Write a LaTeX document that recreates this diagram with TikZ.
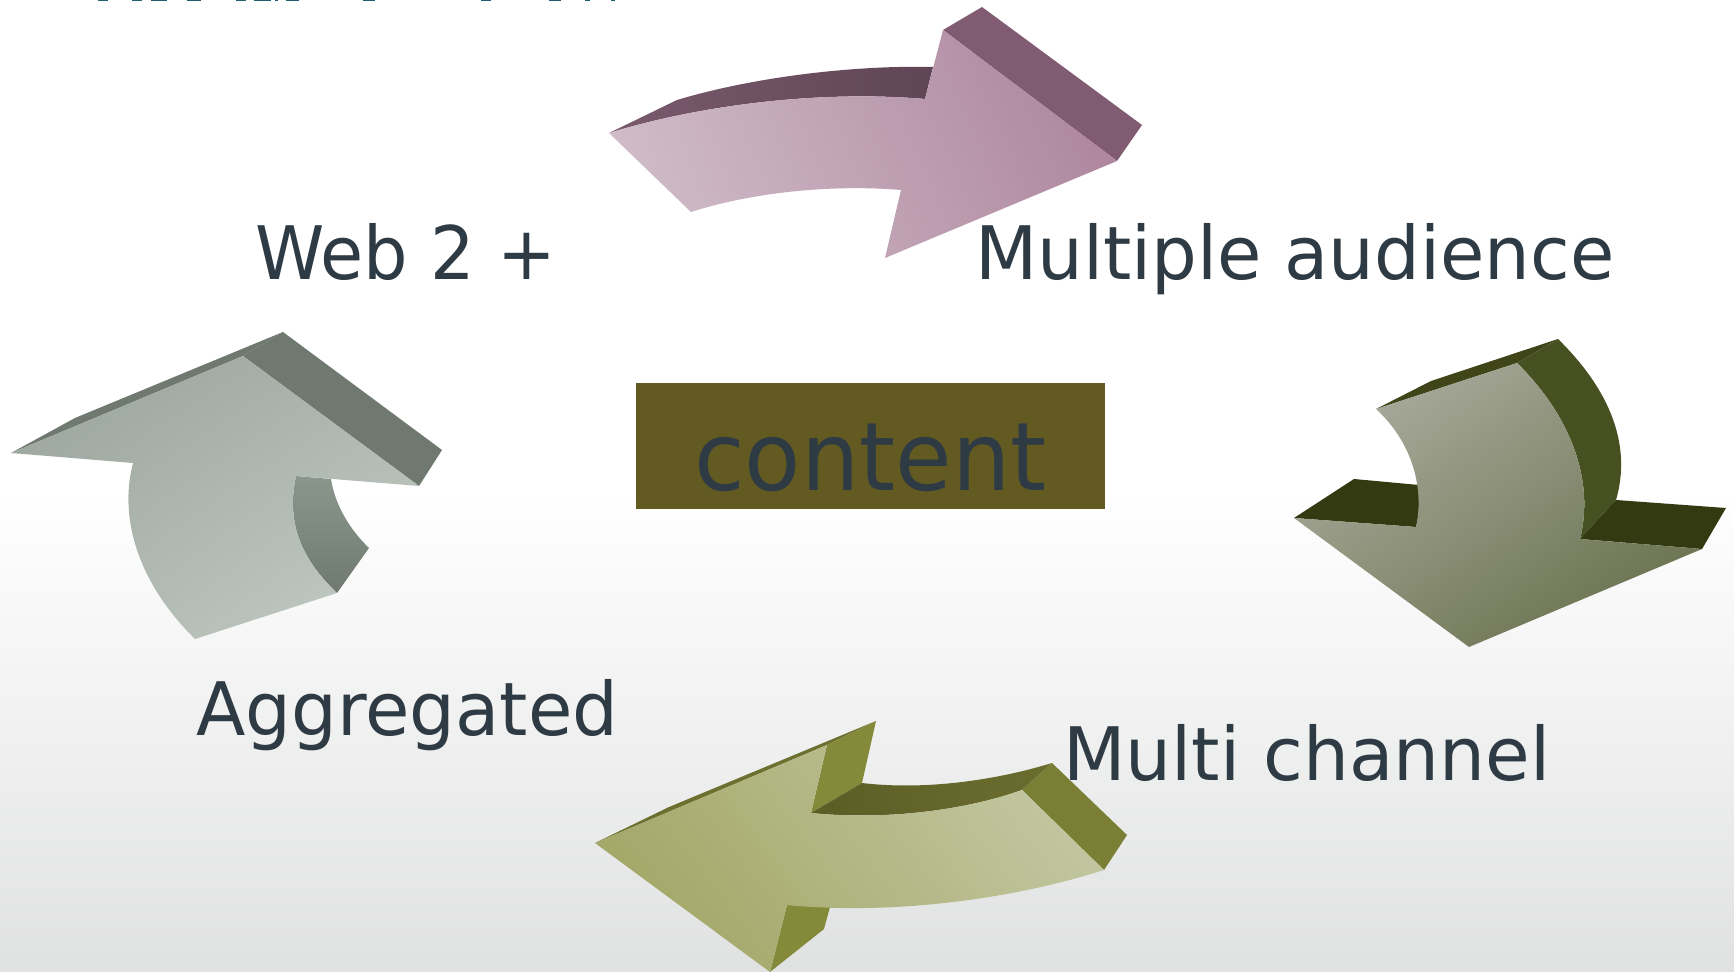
\documentclass[tikz,border=0pt]{standalone}
\usepackage{xcolor}
\usepackage{fontspec}
\usetikzlibrary{shadings}
\setmainfont{DejaVu Sans}
\definecolor{slatetext}{HTML}{2F3B44}
\definecolor{boxolive}{HTML}{625A21}
\definecolor{titleteal}{HTML}{1F5F70}
\definecolor{floorgrey}{HTML}{E0E2E1}
\definecolor{purplelight}{HTML}{D3C0CC}
\definecolor{purplemid}{HTML}{CDB8C6}
\definecolor{purpledeep}{HTML}{AA8099}
\definecolor{purplelow}{HTML}{B28CA3}
\definecolor{purpledark}{HTML}{5F4555}
\definecolor{purplefade}{HTML}{7A5A6E}
\definecolor{purpleside}{HTML}{805B72}
\definecolor{greydeep}{HTML}{98A39A}
\definecolor{greymid}{HTML}{ACB5AE}
\definecolor{greylight}{HTML}{C6CDC8}
\definecolor{greyside}{HTML}{6F7970}
\definecolor{greyinner}{HTML}{8A968C}
\definecolor{mosslight}{HTML}{B4B6AC}
\definecolor{mossmid}{HTML}{8A8E74}
\definecolor{mossdeep}{HTML}{5E6842}
\definecolor{mosssliver}{HTML}{3F4519}
\definecolor{mossside}{HTML}{465021}
\definecolor{mossdark}{HTML}{333A12}
\definecolor{olivedeep}{HTML}{9DA15C}
\definecolor{olivemid}{HTML}{A8AC70}
\definecolor{olivelight}{HTML}{C8CCAA}
\definecolor{olivelow}{HTML}{BDC198}
\definecolor{olivesliver}{HTML}{6E7030}
\definecolor{oliveside}{HTML}{858A3B}
\definecolor{olivedark}{HTML}{5B5D26}
\definecolor{olivefade}{HTML}{6B6D2F}
\definecolor{oliveend}{HTML}{7A7F35}
\tikzset{
  labeltext/.style={font=\fontsize{42}{50}\selectfont,text=slatetext,anchor=base west,inner sep=0pt,transform shape},
  bigtext/.style={font=\fontsize{54}{64}\selectfont,text=slatetext,anchor=base west,inner sep=0pt,transform shape},
  purpleface/.style={lower left=purplelight,upper right=purpledeep,upper left=purplemid,lower right=purplelow},
  greyface/.style={upper left=greydeep,lower right=greylight,upper right=greymid,lower left=greymid},
  mossface/.style={upper left=mosslight,lower right=mossdeep,upper right=mossmid,lower left=mossmid},
  oliveface/.style={lower left=olivedeep,upper right=olivelight,upper left=olivemid,lower right=olivelow}
}
\begin{document}
\begin{tikzpicture}[x=0.02cm,y=-0.02cm]
\useasboundingbox (0,0) rectangle (1734,972);
\fill [white] (0,0) rectangle (1734,490);
\shade [top color=white,bottom color=floorgrey] (0,490) rectangle (1734,972);
\foreach \xa/\xb in {98/108,132/142,151/167,187/201,236/246,254/271,275/278,286/299,363/375,481/491,549/561,585/590,611/615}
  \fill [titleteal] (\xa,0) rectangle (\xb,1.5);
% purple
\shade [left color=purplefade,right color=purpledark] (609,133) -- (677,100) .. controls (750,78) and (850,65) .. (933,67) -- (925,99) .. controls (820,90) and (700,105) .. (609,133);
\fill [purpleside] (943,30) -- (982,7) -- (1142,125) -- (1117,161) -- cycle;
\shade [purpleface] (609,133) .. controls (700,105) and (820,90) .. (925,99) -- (943,30) -- (1117,161) -- (885,258) -- (901,190) .. controls (830,184) and (750,193) .. (691,212) -- cycle;
% moss
\fill [mosssliver] (1376,409) -- (1431,381) -- (1558,339) -- (1517,363) -- cycle;
\fill [mossside] (1558,339) .. controls (1610,390) and (1632,445) .. (1616,500) -- (1580,539) .. controls (1595,480) and (1570,415) .. (1517,363) -- cycle;
\fill [mossdark] (1294,518) -- (1354,479) -- (1419,485) .. controls (1421,500) and (1419,515) .. (1416,527) -- cycle;
\fill [mossdark] (1616,500) -- (1726,508) -- (1702,549) -- (1580,539) -- cycle;
\shade [mossface] (1376,409) .. controls (1410,440) and (1425,485) .. (1416,527) -- (1294,518) -- (1469,647) -- (1702,549) -- (1580,539) .. controls (1595,480) and (1570,415) .. (1517,363) -- cycle;
% olive
\fill [olivesliver] (595,843) -- (669,807) -- (876,721) -- (827,745) -- cycle;
\fill [oliveside] (827,745) -- (876,721) -- (862,783) -- (811,813) -- cycle;
\shade [left color=olivedark,right color=olivefade] (811,813) -- (862,783) .. controls (920,790) and (990,782) .. (1052,763) -- (1022,790) .. controls (960,812) and (880,820) .. (811,813);
\fill [oliveend] (1022,790) -- (1052,763) -- (1127,835) -- (1104,870) -- cycle;
\fill [oliveside] (787,905) -- (830,907) -- (824,929) -- (770,972) -- cycle;
\shade [oliveface] (595,843) -- (827,745) -- (811,813) .. controls (880,820) and (960,812) .. (1022,790) -- (1104,870) .. controls (1010,900) and (890,915) .. (787,905) -- (770,972) -- cycle;
% grey
\fill [greyside] (11,453) -- (75,418) -- (283,332) -- (243,356) -- cycle;
\fill [greyside] (243,356) -- (283,332) -- (442,450) -- (419,486) -- cycle;
\shade [top color=greyinner,bottom color=greyside] (296,476) -- (331,479) .. controls (335,505) and (350,530) .. (369,548) -- (337,593) .. controls (297,555) and (287,518) .. (296,476);
\shade [greyface] (11,453) -- (133,463) .. controls (118,520) and (140,585) .. (195,639) -- (337,593) .. controls (297,555) and (287,518) .. (296,476) -- (419,486) -- (243,356) -- cycle;
% box and labels
\fill [boxolive] (636,383) rectangle (1105,509);
\node [bigtext,xscale=0.97] (contentlabel) at (694,491) {content};
\node [labeltext,xscale=0.95] (weblabel) at (255,280) {Web 2 +};
\node [labeltext,xscale=0.977] (audiencelabel) at (975,280) {Multiple audience};
\node [labeltext,xscale=0.978] (aggregatedlabel) at (196,735) {Aggregated};
\node [labeltext,xscale=0.982] (channellabel) at (1063,780) {Multi channel};
\end{tikzpicture}
\end{document}
